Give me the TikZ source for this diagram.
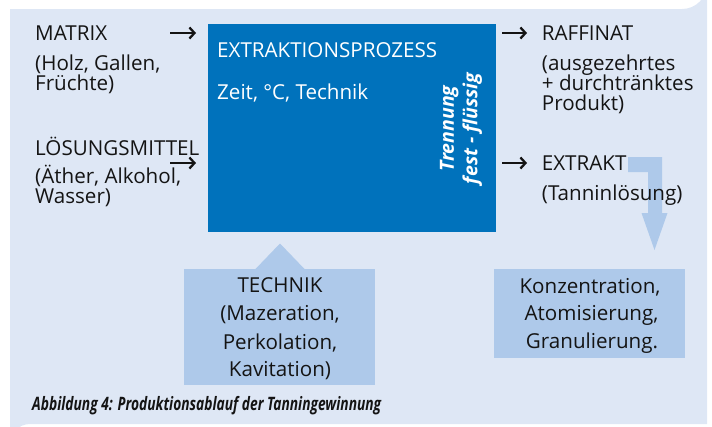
\documentclass[tikz,border=0pt]{standalone}
\usepackage{fontspec}
\setmainfont{Open Sans}
\newfontfamily\capfont[FakeStretch=0.745]{Open Sans}
\usetikzlibrary{arrows.meta}
\definecolor{bgblue}{RGB}{222,231,245}
\definecolor{darkblue}{RGB}{0,114,188}
\definecolor{lightbox}{RGB}{174,201,234}
\definecolor{txt}{RGB}{20,20,20}
\tikzset{
  lbl/.style={anchor=base west, inner sep=0pt, text=txt, font=\fontsize{20.6}{22}\selectfont},
  clbl/.style={anchor=base, inner sep=0pt, text=txt, font=\fontsize{20.6}{22}\selectfont},
  wlbl/.style={anchor=base west, inner sep=0pt, text=white, font=\fontsize{20.6}{22}\selectfont},
  flowarrow/.style={line width=2.3pt, -{Straight Barb[length=5pt,width=11pt,line width=2.3pt]}, txt},
  panel/.style={fill=lightbox, draw=none, inner sep=0pt}
}
\begin{document}
\begin{tikzpicture}[x=1pt,y=-1pt]
\useasboundingbox (0,0) rectangle (712,426);
% background
\fill[bgblue] (10,9) -- (682,9) arc[start angle=90,end angle=0,radius=25] -- (707,424) -- (30,424) arc[start angle=270,end angle=180,radius=20] -- cycle;
% process box
\node[fill=darkblue, inner sep=0pt, minimum width=288pt, minimum height=208pt] (proc) at (352,128) {};
\node[wlbl] (proctitle) at (217,57) {EXTRAKTIONSPROZESS};
\node[wlbl] (procsub) at (217,99) {Zeit, °C, Technik};
\node[rotate=90, inner sep=0pt, text=white, align=center, font=\fontsize{19.5}{23.5}\selectfont\bfseries\itshape] (sep) at (461,128.5) {Trennung\\fest - flüssig};
% left inputs
\node[lbl] (matrix) at (35,40.7) {MATRIX};
\node[lbl] (matrix1) at (35,70) {(Holz, Gallen,};
\node[lbl] (matrix2) at (35,90.5) {Früchte)};
\node[lbl] (loes) at (35,155.7) {LÖSUNGSMITTEL};
\node[lbl] (loes1) at (35,183.5) {(Äther, Alkohol,};
\node[lbl] (loes2) at (35,203.5) {Wasser)};
\coordinate (a1s) at (170,33); \coordinate (a1e) at (196,33);
\coordinate (a2s) at (170,163); \coordinate (a2e) at (196,163);
\draw[flowarrow] (a1s) -- (a1e);
\draw[flowarrow] (a2s) -- (a2e);
% bent arrow to post-processing
\fill[lightbox] (628,157) -- (662,157) -- (662,213) -- (667.5,213) -- (654.5,250) -- (641.5,213) -- (648,213) -- (648,172) -- (628,172) -- cycle;
% right outputs
\coordinate (b1s) at (502,33); \coordinate (b1e) at (527,33);
\coordinate (b2s) at (502,163); \coordinate (b2e) at (527,163);
\draw[flowarrow] (b1s) -- (b1e);
\draw[flowarrow] (b2s) -- (b2e);
\node[lbl] (raff) at (541.7,40.7) {RAFFINAT};
\node[lbl] (raff1) at (541.7,70) {(ausgezehrtes};
\node[lbl] (raff2) at (541.7,90.5) {+ durchtränktes};
\node[lbl] (raff3) at (541.7,110.5) {Produkt)};
\node[lbl] (extr) at (541.7,170.7) {EXTRAKT};
\node[lbl] (extr1) at (541.7,200) {(Tanninlösung)};
% technik box with pointer
\fill[lightbox] (255,269.5) -- (280,243.5) -- (305,269.5) -- cycle;
\node[panel, minimum width=191pt, minimum height=116pt] (tech) at (279.5,327) {};
\node[clbl] (tech0) at (280,292.7) {TECHNIK};
\node[clbl] (tech1) at (280,320.7) {(Mazeration,};
\node[clbl] (tech2) at (280,349) {Perkolation,};
\node[clbl] (tech3) at (280,376.7) {Kavitation)};
% post-processing box
\node[panel, minimum width=191pt, minimum height=89pt] (post) at (589.5,313.5) {};
\node[clbl] (post0) at (590,293) {Konzentration,};
\node[clbl] (post1) at (591.5,320.5) {Atomisierung,};
\node[clbl] (post2) at (592,348) {Granulierung.};
% caption
\node[anchor=base west, inner sep=0pt, text=txt, font=\capfont\fontsize{18.5}{20}\selectfont\bfseries\itshape] (cap) at (32,410.5) {Abbildung 4: Produktionsablauf der Tanningewinnung};
\end{tikzpicture}
\end{document}
